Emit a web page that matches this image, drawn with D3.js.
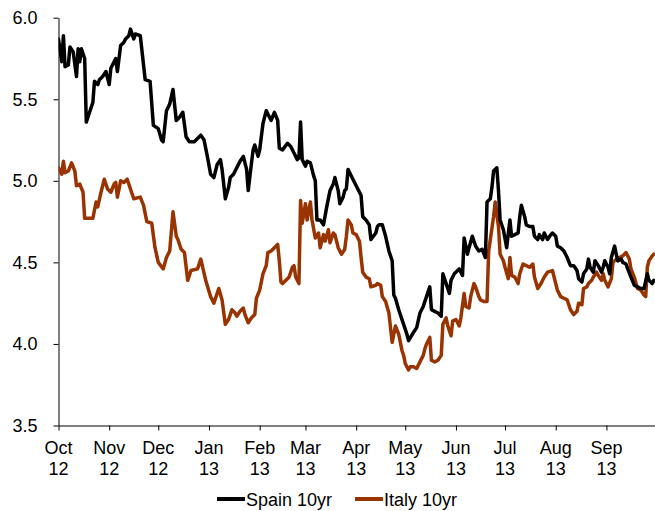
<!DOCTYPE html>
<html>
<head>
<meta charset="utf-8">
<script src="https://cdn.jsdelivr.net/npm/d3@7"></script>
<style>
  html, body { margin: 0; padding: 0; background: #fff; }
  svg { display: block; font-family: "Liberation Sans", Arial, sans-serif; }
</style>
</head>
<body>
<svg id="chart" width="655" height="511"></svg>
<script>
const seriesNames = ["Spain 10yr", "Italy 10yr"];
const seriesColors = ["#000000", "#993300"];
const yTicks = [3.5, 4.0, 4.5, 5.0, 5.5, 6.0];
const monthTicks = ["2012-10-01","2012-11-01","2012-12-01","2013-01-01","2013-02-01","2013-03-01","2013-04-01","2013-05-01","2013-06-01","2013-07-01","2013-08-01","2013-09-01"];
const monthLabels = ["Oct","Nov","Dec","Jan","Feb","Mar","Apr","May","Jun","Jul","Aug","Sep"];
const yearLabels = ["12","12","12","13","13","13","13","13","13","13","13","13"];

const spainDates = ["2012-10-01","2012-10-03","2012-10-04","2012-10-05","2012-10-07","2012-10-08","2012-10-10","2012-10-12","2012-10-13","2012-10-14","2012-10-15","2012-10-17","2012-10-18","2012-10-20","2012-10-22","2012-10-23","2012-10-25","2012-10-26","2012-10-28","2012-10-30","2012-11-01","2012-11-02","2012-11-05","2012-11-06","2012-11-07","2012-11-08","2012-11-10","2012-11-11","2012-11-13","2012-11-14","2012-11-16","2012-11-17","2012-11-20","2012-11-22","2012-11-23","2012-11-26","2012-11-28","2012-12-01","2012-12-03","2012-12-04","2012-12-06","2012-12-08","2012-12-10","2012-12-12","2012-12-14","2012-12-16","2012-12-18","2012-12-20","2012-12-23","2012-12-27","2012-12-29","2012-12-31","2013-01-02","2013-01-04","2013-01-06","2013-01-08","2013-01-09","2013-01-11","2013-01-13","2013-01-14","2013-01-16","2013-01-17","2013-01-19","2013-01-20","2013-01-22","2013-01-24","2013-01-25","2013-01-27","2013-01-28","2013-01-29","2013-01-31","2013-02-01","2013-02-03","2013-02-05","2013-02-06","2013-02-08","2013-02-10","2013-02-12","2013-02-13","2013-02-15","2013-02-18","2013-02-20","2013-02-22","2013-02-24","2013-02-25","2013-02-26","2013-02-27","2013-03-01","2013-03-02","2013-03-04","2013-03-06","2013-03-07","2013-03-08","2013-03-10","2013-03-12","2013-03-14","2013-03-16","2013-03-18","2013-03-19","2013-03-21","2013-03-22","2013-03-24","2013-03-25","2013-03-26","2013-03-27","2013-03-29","2013-03-31","2013-04-02","2013-04-04","2013-04-05","2013-04-07","2013-04-09","2013-04-10","2013-04-13","2013-04-14","2013-04-15","2013-04-17","2013-04-19","2013-04-21","2013-04-23","2013-04-24","2013-04-25","2013-04-27","2013-04-30","2013-05-02","2013-05-03","2013-05-06","2013-05-08","2013-05-10","2013-05-12","2013-05-14","2013-05-16","2013-05-17","2013-05-19","2013-05-21","2013-05-23","2013-05-24","2013-05-26","2013-05-28","2013-05-29","2013-05-31","2013-06-02","2013-06-03","2013-06-05","2013-06-06","2013-06-08","2013-06-09","2013-06-11","2013-06-13","2013-06-15","2013-06-17","2013-06-19","2013-06-20","2013-06-22","2013-06-23","2013-06-24","2013-06-26","2013-06-27","2013-06-28","2013-06-30","2013-07-02","2013-07-04","2013-07-05","2013-07-07","2013-07-09","2013-07-10","2013-07-11","2013-07-13","2013-07-14","2013-07-16","2013-07-18","2013-07-19","2013-07-21","2013-07-22","2013-07-24","2013-07-25","2013-07-27","2013-07-29","2013-07-30","2013-08-01","2013-08-02","2013-08-04","2013-08-06","2013-08-08","2013-08-10","2013-08-12","2013-08-14","2013-08-15","2013-08-17","2013-08-18","2013-08-20","2013-08-21","2013-08-22","2013-08-24","2013-08-25","2013-08-27","2013-08-29","2013-08-30","2013-08-31","2013-09-02","2013-09-03","2013-09-04","2013-09-06","2013-09-07","2013-09-08","2013-09-10","2013-09-11","2013-09-13","2013-09-14","2013-09-16","2013-09-18","2013-09-20","2013-09-22","2013-09-24","2013-09-26","2013-09-27","2013-09-29","2013-09-30"];
const spainValues = [5.87,5.73,5.89,5.70,5.71,5.82,5.79,5.64,5.81,5.73,5.81,5.75,5.36,5.42,5.48,5.61,5.59,5.62,5.64,5.67,5.59,5.69,5.75,5.67,5.75,5.83,5.85,5.87,5.89,5.93,5.87,5.90,5.89,5.71,5.62,5.61,5.34,5.32,5.25,5.24,5.43,5.47,5.56,5.37,5.39,5.42,5.27,5.24,5.24,5.28,5.25,5.15,5.04,5.02,5.10,5.13,5.07,4.89,4.96,5.02,5.04,5.06,5.10,5.12,5.15,5.07,4.94,5.11,5.19,5.22,5.15,5.19,5.35,5.43,5.41,5.37,5.42,5.37,5.20,5.19,5.23,5.21,5.17,5.13,5.14,5.36,5.13,5.09,5.12,5.11,5.03,5.00,4.76,4.76,4.73,4.84,4.94,4.98,5.02,4.94,4.86,4.90,4.94,4.95,5.07,5.03,4.99,4.95,4.91,4.78,4.76,4.73,4.64,4.68,4.72,4.73,4.73,4.66,4.57,4.51,4.30,4.28,4.21,4.12,4.06,4.02,4.07,4.10,4.19,4.23,4.29,4.35,4.21,4.20,4.19,4.17,4.43,4.37,4.31,4.39,4.43,4.45,4.46,4.42,4.65,4.55,4.59,4.66,4.60,4.57,4.58,4.53,4.87,4.89,4.96,5.06,5.08,4.94,4.76,4.70,4.59,4.76,4.66,4.67,4.68,4.78,4.85,4.78,4.73,4.72,4.72,4.66,4.64,4.67,4.64,4.68,4.64,4.67,4.68,4.66,4.60,4.59,4.57,4.53,4.48,4.48,4.45,4.40,4.38,4.43,4.46,4.52,4.47,4.44,4.51,4.48,4.44,4.47,4.51,4.47,4.43,4.53,4.60,4.55,4.51,4.52,4.50,4.49,4.46,4.41,4.36,4.35,4.34,4.34,4.43,4.39,4.37,4.39];

const italyDates = ["2012-10-01","2012-10-03","2012-10-04","2012-10-05","2012-10-07","2012-10-09","2012-10-11","2012-10-12","2012-10-14","2012-10-16","2012-10-17","2012-10-22","2012-10-24","2012-10-25","2012-10-27","2012-10-29","2012-10-31","2012-11-02","2012-11-04","2012-11-05","2012-11-06","2012-11-08","2012-11-10","2012-11-12","2012-11-14","2012-11-16","2012-11-20","2012-11-22","2012-11-24","2012-11-27","2012-11-29","2012-12-01","2012-12-04","2012-12-06","2012-12-08","2012-12-10","2012-12-12","2012-12-13","2012-12-15","2012-12-17","2012-12-19","2012-12-21","2012-12-25","2012-12-27","2012-12-30","2013-01-02","2013-01-04","2013-01-06","2013-01-07","2013-01-09","2013-01-11","2013-01-13","2013-01-15","2013-01-17","2013-01-18","2013-01-20","2013-01-22","2013-01-23","2013-01-25","2013-01-27","2013-01-29","2013-01-30","2013-02-01","2013-02-03","2013-02-05","2013-02-06","2013-02-08","2013-02-10","2013-02-12","2013-02-13","2013-02-14","2013-02-15","2013-02-18","2013-02-19","2013-02-21","2013-02-22","2013-02-23","2013-02-25","2013-02-26","2013-02-27","2013-03-01","2013-03-02","2013-03-04","2013-03-05","2013-03-07","2013-03-09","2013-03-10","2013-03-12","2013-03-13","2013-03-15","2013-03-16","2013-03-18","2013-03-19","2013-03-21","2013-03-23","2013-03-25","2013-03-26","2013-03-27","2013-03-29","2013-03-30","2013-04-01","2013-04-03","2013-04-04","2013-04-05","2013-04-07","2013-04-09","2013-04-10","2013-04-13","2013-04-14","2013-04-16","2013-04-17","2013-04-19","2013-04-21","2013-04-22","2013-04-23","2013-04-25","2013-04-27","2013-04-29","2013-04-30","2013-05-01","2013-05-03","2013-05-04","2013-05-06","2013-05-08","2013-05-10","2013-05-12","2013-05-13","2013-05-14","2013-05-16","2013-05-17","2013-05-19","2013-05-21","2013-05-23","2013-05-24","2013-05-26","2013-05-27","2013-05-29","2013-05-30","2013-06-01","2013-06-03","2013-06-04","2013-06-06","2013-06-07","2013-06-09","2013-06-10","2013-06-12","2013-06-13","2013-06-15","2013-06-16","2013-06-18","2013-06-20","2013-06-21","2013-06-22","2013-06-24","2013-06-25","2013-06-27","2013-06-28","2013-06-30","2013-07-01","2013-07-03","2013-07-04","2013-07-05","2013-07-07","2013-07-09","2013-07-10","2013-07-12","2013-07-14","2013-07-16","2013-07-18","2013-07-19","2013-07-21","2013-07-23","2013-07-25","2013-07-27","2013-07-30","2013-07-31","2013-08-02","2013-08-04","2013-08-06","2013-08-08","2013-08-10","2013-08-12","2013-08-14","2013-08-15","2013-08-17","2013-08-18","2013-08-20","2013-08-21","2013-08-23","2013-08-24","2013-08-26","2013-08-27","2013-08-29","2013-08-30","2013-08-31","2013-09-02","2013-09-04","2013-09-05","2013-09-07","2013-09-08","2013-09-09","2013-09-11","2013-09-12","2013-09-13","2013-09-15","2013-09-16","2013-09-18","2013-09-20","2013-09-22","2013-09-24","2013-09-25","2013-09-26","2013-09-27","2013-09-29","2013-09-30"];
const italyValues = [5.08,5.04,5.12,5.05,5.06,5.11,5.06,4.97,4.98,4.93,4.77,4.77,4.87,4.84,4.93,5.01,4.95,4.93,4.98,4.99,4.90,5.00,4.99,5.01,4.95,4.89,4.90,4.85,4.75,4.74,4.59,4.50,4.46,4.53,4.57,4.81,4.66,4.64,4.58,4.56,4.39,4.45,4.46,4.52,4.39,4.29,4.25,4.31,4.34,4.27,4.12,4.15,4.21,4.19,4.17,4.20,4.22,4.18,4.13,4.16,4.18,4.28,4.33,4.43,4.48,4.56,4.57,4.59,4.61,4.51,4.38,4.37,4.40,4.41,4.47,4.48,4.41,4.37,4.88,4.74,4.86,4.76,4.87,4.76,4.65,4.68,4.59,4.67,4.63,4.70,4.62,4.68,4.67,4.59,4.55,4.58,4.66,4.76,4.73,4.68,4.67,4.63,4.53,4.44,4.41,4.40,4.35,4.36,4.37,4.36,4.29,4.26,4.19,4.10,4.01,4.11,4.06,3.96,3.93,3.88,3.84,3.86,3.86,3.85,3.89,3.93,3.97,4.00,4.04,3.90,3.89,3.90,3.93,4.12,4.16,4.11,4.05,4.14,4.15,4.11,4.16,4.31,4.23,4.22,4.29,4.37,4.35,4.29,4.27,4.26,4.26,4.57,4.64,4.78,4.87,4.72,4.55,4.51,4.47,4.40,4.53,4.42,4.41,4.37,4.43,4.49,4.48,4.47,4.49,4.41,4.34,4.37,4.41,4.44,4.45,4.41,4.33,4.29,4.28,4.27,4.21,4.18,4.20,4.25,4.24,4.34,4.35,4.37,4.39,4.41,4.44,4.42,4.39,4.43,4.39,4.35,4.40,4.50,4.52,4.51,4.53,4.54,4.55,4.56,4.52,4.46,4.41,4.34,4.33,4.30,4.29,4.47,4.51,4.54,4.55];

const parse = d3.timeParse("%Y-%m-%d");
const series = [
  { name: seriesNames[0], color: seriesColors[0], pts: spainDates.map((d, i) => ({ date: parse(d), value: spainValues[i] })) },
  { name: seriesNames[1], color: seriesColors[1], pts: italyDates.map((d, i) => ({ date: parse(d), value: italyValues[i] })) }
];

const svg = d3.select("#chart");
const plot = { left: 58.5, right: 655.5, top: 17.7, bottom: 425.5 };

const x = d3.scaleTime()
  .domain([parse("2012-10-01"), parse("2013-10-01")])
  .range([plot.left, plot.right]);
const y = d3.scaleLinear().domain([3.5, 6.0]).range([plot.bottom, plot.top]);

// Y axis
const yAxis = d3.axisLeft(y).tickValues(yTicks).tickFormat(d3.format(".1f")).tickSizeInner(5).tickSizeOuter(0).tickPadding(16);
const gy = svg.append("g").attr("transform", `translate(${plot.left},0)`).call(yAxis);
gy.select(".domain").attr("stroke", "#000").attr("stroke-width", 1);
gy.selectAll(".tick line").attr("stroke", "#000");
gy.selectAll(".tick text").attr("font-size", 18).attr("fill", "#000").attr("font-family", "Liberation Sans, Arial, sans-serif");

// X axis
const tickDates = monthTicks.map(parse);
const xAxis = d3.axisBottom(x).tickValues(tickDates).tickFormat("").tickSizeInner(5).tickSizeOuter(0);
const gx = svg.append("g").attr("transform", `translate(0,${plot.bottom})`).call(xAxis);
gx.select(".domain").attr("stroke", "#000").attr("stroke-width", 1);
gx.selectAll(".tick line").attr("stroke", "#000");

const labels = svg.append("g").attr("font-size", 18).attr("fill", "#000").attr("text-anchor", "middle");
tickDates.forEach((d, i) => {
  const t = labels.append("text").attr("x", x(d)).attr("y", 454);
  t.append("tspan").attr("x", x(d)).attr("y", 454).text(monthLabels[i]);
  t.append("tspan").attr("x", x(d)).attr("y", 475).text(yearLabels[i]);
});

// Lines
const line = d3.line().x(d => x(d.date)).y(d => y(d.value)).curve(d3.curveLinear);
const clip = svg.append("clipPath").attr("id", "clip").append("rect")
  .attr("x", plot.left).attr("y", 0).attr("width", plot.right - plot.left + 2).attr("height", plot.bottom);
svg.append("g").attr("clip-path", "url(#clip)")
  .selectAll("path.series").data(series.slice().reverse()).join("path")
  .attr("class", "series")
  .attr("d", d => line(d.pts))
  .attr("fill", "none")
  .attr("stroke", d => d.color)
  .attr("stroke-width", 3.5)
  .attr("stroke-linejoin", "round")
  .attr("stroke-linecap", "round");

// Legend
const legendItems = [
  { x0: 217, name: seriesNames[0], color: seriesColors[0] },
  { x0: 355, name: seriesNames[1], color: seriesColors[1] }
];
const lg = svg.append("g");
legendItems.forEach(it => {
  lg.append("line").attr("x1", it.x0).attr("x2", it.x0 + 28).attr("y1", 499).attr("y2", 499)
    .attr("stroke", it.color).attr("stroke-width", 4);
  lg.append("text").attr("x", it.x0 + 29).attr("y", 505.5).attr("font-size", 18).attr("fill", "#000").text(it.name);
});
</script>
</body>
</html>
